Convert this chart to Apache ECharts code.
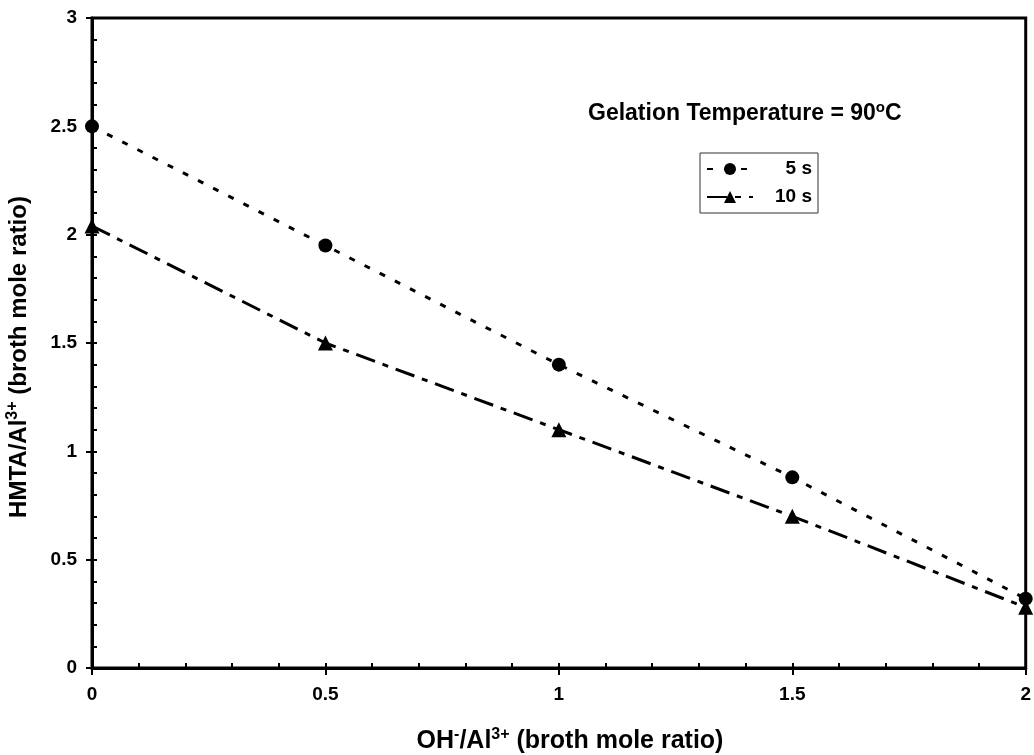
<!DOCTYPE html>
<html>
<head>
<meta charset="utf-8">
<script src="https://cdn.jsdelivr.net/npm/echarts@6/dist/echarts.min.js"></script>
<style>html,body{margin:0;padding:0;background:#fff}#c{width:1034px;height:755px}</style>
</head>
<body>
<div id="c"></div>
<script>
const xValues = [0, 0.5, 1, 1.5, 2];
const series5s = [2.50, 1.95, 1.40, 0.88, 0.32];
const series10s = [2.04, 1.50, 1.10, 0.70, 0.28];
const seriesNames = ['5 s', '10 s'];

const FONT = '"Liberation Sans", Arial, sans-serif';
const chart = echarts.init(document.getElementById('c'), null, {renderer: 'canvas'});

function pairs(ys) { return xValues.map((x, i) => [x, ys[i]]); }

const axisCommon = {type: 'value', splitLine: {show: false}};
const option = {
  backgroundColor: '#fff',
  animation: false,
  grid: {left: 92, right: 8, top: 18, bottom: 87, show: true, borderColor: '#000', borderWidth: 3, backgroundColor: 'transparent'},
  xAxis: [
    Object.assign({}, axisCommon, {min: 0, max: 2, interval: 0.5, position: 'bottom',
      axisLine: {show: true, lineStyle: {color: '#000', width: 3}},
      axisTick: {show: true, inside: false, length: 7, lineStyle: {color: '#000', width: 2}},
      axisLabel: {color: '#000', fontFamily: FONT, fontWeight: 'bold', fontSize: 19, margin: 17,
        formatter: v => String(+v.toFixed(1))}}),
    Object.assign({}, axisCommon, {min: 0, max: 2, interval: 0.1, position: 'bottom',
      axisLine: {show: false},
      axisTick: {show: true, inside: true, length: 5, lineStyle: {color: '#000', width: 2}},
      axisLabel: {show: false}})
  ],
  yAxis: [
    Object.assign({}, axisCommon, {min: 0, max: 3, interval: 0.5, position: 'left',
      axisLine: {show: true, lineStyle: {color: '#000', width: 3}},
      axisTick: {show: true, inside: false, length: 6, lineStyle: {color: '#000', width: 2}},
      axisLabel: {color: '#000', fontFamily: FONT, fontWeight: 'bold', fontSize: 19, margin: 15,
        formatter: v => String(+v.toFixed(1))}}),
    Object.assign({}, axisCommon, {min: 0, max: 3, interval: 0.1, position: 'left',
      axisLine: {show: false},
      axisTick: {show: true, inside: true, length: 5, lineStyle: {color: '#000', width: 2}},
      axisLabel: {show: false}})
  ],
  legend: {
    orient: 'vertical', left: 700, top: 153,
    data: seriesNames,
    borderColor: '#333', borderWidth: 1, padding: [5, 6, 5, 6],
    itemWidth: 46, itemHeight: 15, itemGap: 6,
    formatter: name => '{r|' + name + '}',
    textStyle: {color: '#000', fontFamily: FONT, fontWeight: 'bold', fontSize: 19, lineHeight: 22,
      rich: {r: {width: 54, align: 'right', fontFamily: FONT, fontWeight: 'bold', fontSize: 19, color: '#000'}}}
  },
  series: [
    {name: seriesNames[0], type: 'line', xAxisIndex: 0, yAxisIndex: 0, data: pairs(series5s),
      symbol: 'circle', symbolSize: 14, itemStyle: {color: '#000'},
      lineStyle: {color: '#000', width: 3, type: [6, 11]}},
    {name: seriesNames[1], type: 'line', xAxisIndex: 0, yAxisIndex: 0, data: pairs(series10s),
      symbol: 'triangle', symbolSize: 15, itemStyle: {color: '#000'},
      lineStyle: {color: '#000', width: 3, type: [20, 8, 6, 8]}}
  ],
  graphic: [
    {type: 'text', left: 588, top: 100, style: {
      rich: {b: {fontFamily: FONT, fontWeight: 'bold', fontSize: 23, fill: '#000'},
             s: {fontFamily: FONT, fontWeight: 'bold', fontSize: 15, fill: '#000', padding: [0,0,12,0]}},
      text: '{b|Gelation Temperature = 90}{s|o}{b|C}'}},
    {type: 'text', x: 570, y: 741, style: {
      align: 'center', verticalAlign: 'middle',
      rich: {b: {fontFamily: FONT, fontWeight: 'bold', fontSize: 25, fill: '#000'},
             s: {fontFamily: FONT, fontWeight: 'bold', fontSize: 16, fill: '#000', padding: [0,0,13,0]}},
      text: '{b|OH}{s|-}{b|/Al}{s|3+}{b| (broth mole ratio)}'}},
    {type: 'text', x: 19, y: 357, rotation: Math.PI / 2, style: {
      align: 'center', verticalAlign: 'middle',
      rich: {b: {fontFamily: FONT, fontWeight: 'bold', fontSize: 24, fill: '#000'},
             s: {fontFamily: FONT, fontWeight: 'bold', fontSize: 16, fill: '#000', padding: [0,0,13,0]}},
      text: '{b|HMTA/Al}{s|3+}{b| (broth mole ratio)}'}}
  ]
};
chart.setOption(option);
</script>
</body>
</html>
